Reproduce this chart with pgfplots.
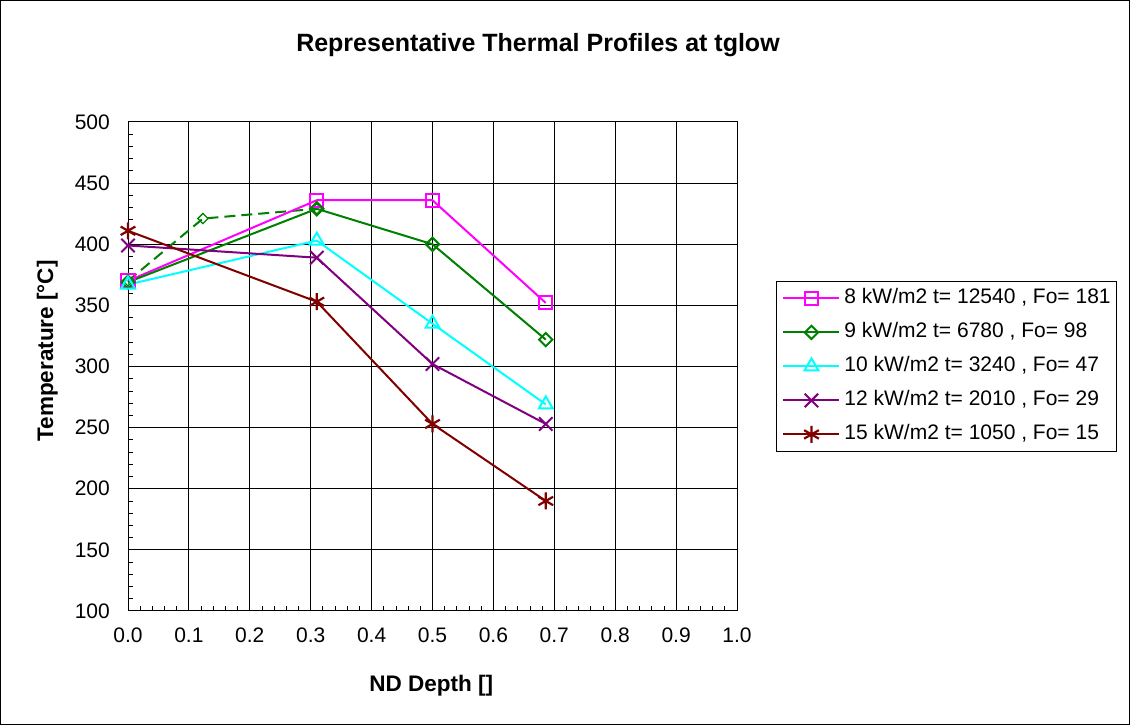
\documentclass[border=0pt]{standalone}
\usepackage{pgfplots}
\pgfplotsset{compat=1.18}
\usepackage{fontspec}
\setmainfont{Liberation Sans}
\definecolor{cMag}{RGB}{255,0,255}
\definecolor{cGrn}{RGB}{0,128,0}
\definecolor{cCyn}{RGB}{0,255,255}
\definecolor{cPur}{RGB}{128,0,128}
\definecolor{cRed}{RGB}{128,0,0}
\begin{document}
\begin{tikzpicture}[x=1pt,y=1pt]
\draw[line width=1pt] (0.5,0.5) rectangle (1129.5,724.5);
\node[font=\fontsize{25}{30}\selectfont\bfseries, anchor=base] at (538,673) {Representative Thermal Profiles at tglow};
\begin{axis}[
  at={(128pt,114pt)}, anchor=south west,
  scale only axis, width=609pt, height=489pt,
  xmin=0, xmax=1, ymin=100, ymax=500,
  xtick={0,0.1,0.2,0.3,0.4,0.5,0.6,0.7,0.8,0.9,1.0},
  ytick={100,150,200,250,300,350,400,450,500},
  minor x tick num=4, minor y tick num=4,
  xtick pos=left, ytick pos=left, tick align=inside,
  major tick length=0pt, minor tick length=5pt,
  every tick/.style={black, line width=0.8pt},
  grid=major, major grid style={black, line width=1pt},
  axis line style={black, line width=1pt},
  /pgf/number format/assume math mode=true,
  xticklabel={\pgfmathprintnumber[fixed,precision=1,zerofill]{\tick}},
  yticklabel={\pgfmathprintnumber[fixed,precision=0]{\tick}},
  tick label style={font=\fontsize{21}{25}\selectfont},
  xticklabel style={anchor=center, inner sep=0pt, yshift=-24pt},
  yticklabel style={anchor=east, inner sep=0pt, xshift=-18pt},
  xlabel={ND Depth []},
  ylabel={Temperature [°C]},
  label style={font=\fontsize{22.5}{27}\selectfont\bfseries},
  xlabel style={at={(axis description cs:0.498,-0.1656)}, anchor=base},
  ylabel style={at={(axis description cs:-0.123,0.532)}, anchor=base},
  legend style={at={(1.064,0.675)}, anchor=north west, draw=black, line width=1pt,
    font=\fontsize{21}{25}\selectfont, inner xsep=6pt, inner ysep=8pt,
    row sep=16pt, column sep=4pt,
    nodes={inner sep=0pt, text height=14pt, text depth=4pt}},
  legend cell align=left,
  legend image code/.code={\draw[mark repeat=2,mark phase=2] plot coordinates {(0pt,0pt) (28pt,0pt) (56pt,0pt)};},
  clip=false,
]
\addplot[cGrn, line width=2pt, dash pattern=on 11pt off 6pt, mark=square, mark size=3.6pt, mark options={solid, rotate=45, line width=1.3pt}, forget plot]
  coordinates {(0,370) (0.123,421) (0.31,429)};
\addplot[cMag, line width=2pt, mark=square, mark size=6.5pt, mark options={line width=2pt}]
  coordinates {(0,370) (0.31,436) (0.5,436) (0.686,352)};
\addlegendentry{8 kW/m2 t= 12540 , Fo= 181}
\addplot[cGrn, line width=2pt, mark=square, mark size=4.7pt, mark options={rotate=45, line width=2pt}]
  coordinates {(0,369) (0.31,429) (0.5,400) (0.686,322)};
\addlegendentry{9 kW/m2 t= 6780 , Fo= 98}
\addplot[cCyn, line width=2pt, mark=triangle, mark size=8pt, mark options={line width=2pt}]
  coordinates {(0,367) (0.31,403) (0.5,335) (0.686,269)};
\addlegendentry{10 kW/m2 t= 3240 , Fo= 47}
\addplot[cPur, line width=2pt, mark=x, mark size=9.5pt, mark options={line width=2pt}]
  coordinates {(0,399) (0.31,389) (0.5,302) (0.686,253)};
\addlegendentry{12 kW/m2 t= 2010 , Fo= 29}
\addplot[cRed, line width=2pt, mark=asterisk, mark size=8.5pt, mark options={line width=2.2pt}]
  coordinates {(0,411) (0.31,353) (0.5,253) (0.686,190)};
\addlegendentry{15 kW/m2 t= 1050 , Fo= 15}
\end{axis}
\end{tikzpicture}
\end{document}
